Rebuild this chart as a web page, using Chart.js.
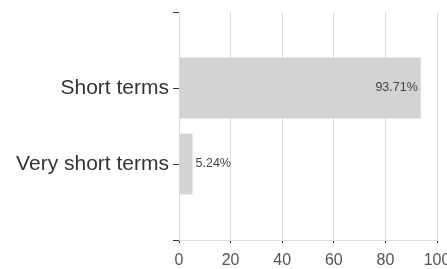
<!DOCTYPE html>
<html>
<head>
<meta charset="utf-8">
<script src="https://cdn.jsdelivr.net/npm/chart.js@4"></script>
<style>
  html, body { margin: 0; padding: 0; background: #fff; }
  #wrap { width: 447px; height: 269px; position: relative; overflow: hidden; }
</style>
</head>
<body>
<div id="wrap"><canvas id="termChart" width="447" height="269"></canvas></div>
<script>
// Kategorien (leere Einträge = Rand der Achse)
var categories = ['', 'Short terms', 'Very short terms', ''];
// Anteile in Prozent
var shares = [null, 93.71, 5.24, null];
// Achsenbeschriftung x
var xTicks = [0, 20, 40, 60, 80, 100];

var fontFamily = '"Liberation Sans", Arial, sans-serif';

// Prozentwerte an die Balken schreiben
var valueLabels = {
    id: 'valueLabels',
    afterDatasetsDraw: function(chart) {
        var ctx = chart.ctx;
        var meta = chart.getDatasetMeta(0);
        ctx.save();
        ctx.font = '12.5px ' + fontFamily;
        ctx.fillStyle = '#444';
        ctx.textBaseline = 'middle';
        meta.data.forEach(function(bar, i) {
            if (shares[i] === null) return;
            var txt = shares[i].toFixed(2) + '%';
            var w = ctx.measureText(txt).width;
            var barLen = bar.x - bar.base;
            if (w + 6 < barLen) {
                ctx.textAlign = 'right';
                ctx.fillText(txt, bar.x - 3, bar.y);
            } else {
                ctx.textAlign = 'left';
                ctx.fillText(txt, bar.x + 3, bar.y);
            }
        });
        ctx.restore();
    }
};

new Chart(document.getElementById('termChart').getContext('2d'), {
    type: 'bar',
    data: {
        labels: categories,
        datasets: [{
            data: shares,
            backgroundColor: '#d3d3d3',
            borderWidth: 0,
            barPercentage: 0.8,
            categoryPercentage: 1
        }]
    },
    options: {
        indexAxis: 'y',
        responsive: false,
        animation: false,
        layout: { padding: { top: 12, right: 10, left: 0, bottom: 0 } },
        plugins: { legend: { display: false }, tooltip: { enabled: false } },
        scales: {
            x: {
                type: 'linear',
                min: 0,
                max: 100,
                afterBuildTicks: function(scale) {
                    scale.ticks = xTicks.map(function(v) { return { value: v }; });
                },
                afterFit: function(scale) {
                    scale.height = 29;
                    scale.paddingLeft = 0;
                    scale.paddingRight = 0;
                },
                grid: { color: '#dcdcdc', lineWidth: 1, tickLength: 3, tickColor: '#333' },
                border: { color: '#dcdcdc' },
                ticks: {
                    color: '#555',
                    padding: 8,
                    maxRotation: 0,
                    font: { family: fontFamily, size: 16 }
                }
            },
            y: {
                type: 'category',
                offset: false,
                afterFit: function(scale) {
                    scale.width = 179;
                    scale.paddingTop = 0;
                    scale.paddingBottom = 0;
                },
                grid: { offset: false, drawOnChartArea: false, tickLength: 6, tickColor: '#333' },
                border: { color: '#dcdcdc' },
                ticks: {
                    color: '#333',
                    padding: 4,
                    autoSkip: false,
                    font: { family: fontFamily, size: 21 }
                }
            }
        }
    },
    plugins: [valueLabels]
});
</script>
</body>
</html>
